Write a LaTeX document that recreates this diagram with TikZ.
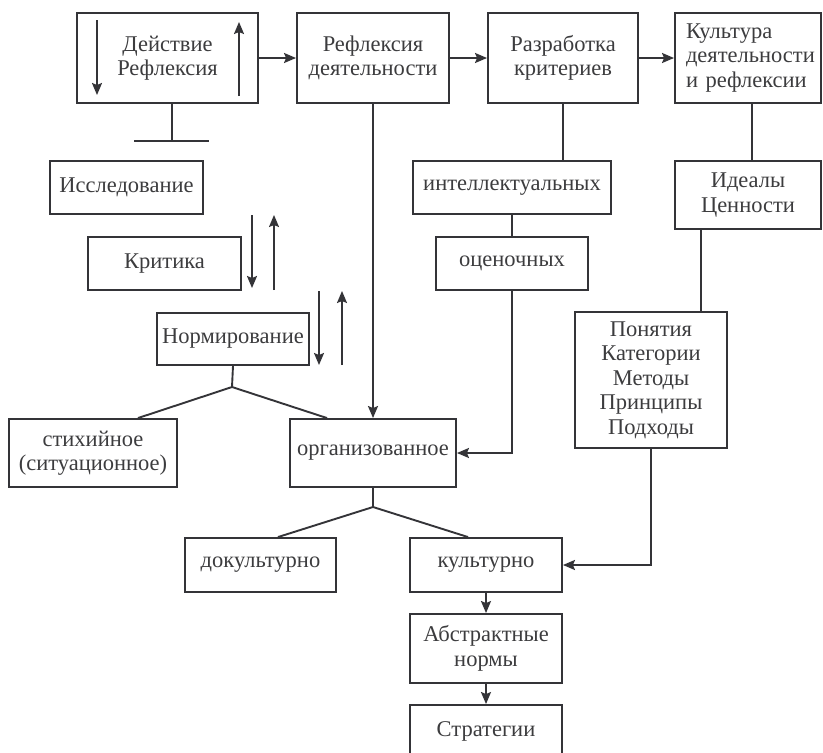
\documentclass[tikz,border=0pt]{standalone}
\usepackage{fontspec}
\setmainfont{Liberation Serif}
\usetikzlibrary{arrows.meta,calc}
\definecolor{trait}{RGB}{52,52,56}
\definecolor{texte}{RGB}{60,60,62}

\begin{document}
\begin{tikzpicture}[x=1pt,y=-1pt,
		box/.style={draw=trait,line width=1.9pt,inner sep=0pt,align=center,
			text=texte,font=\fontsize{22.5}{24.5}\selectfont},
		sz/.style 2 args={minimum width=#1,minimum height=#2},
		lien/.style={trait,line width=1.9pt},
		arr/.style={-{Stealth[length=12pt,width=10pt,inset=2pt]},trait,line width=1.9pt}]
	
	\useasboundingbox (0,0) rectangle (823,753);
	\clip (0,0) rectangle (823,753);
	
	\node[box,sz={181}{90}] (deist)  at (167.5,58) {Действие\\Рефлексия};
	\node[box,sz={152}{90}] (refl)   at (373,58)   {Рефлексия\\деятельности};
	\node[box,sz={150}{90}] (razr)   at (563,58)   {Разработка\\критериев};
	\node[box,sz={146}{90},align=left,text width=124pt,inner xsep=11pt] (kult) at (748,58)
	{Культура\\деятельности\\и рефлексии};
	
	\node[box,sz={153}{53}] (issl)   at (126.5,187.5) {Исследование};
	\node[box,sz={153}{53}] (krit)   at (164.5,263.5) {Критика};
	\node[box,sz={152}{52}] (norm)   at (233,339)     {Нормирование};
	
	\node[box,sz={198}{53}] (intel)  at (512,187.5)   {интеллектуальных};
	\node[box,sz={152}{53}] (ocen)   at (512,263.5)   {оценочных};
	\node[box,sz={146}{68}] (ideal)  at (748,195)     {Идеалы\\Ценности};
	\node[box,sz={152}{136}] (ponyat) at (651,380)
	{Понятия\\Категории\\Методы\\Принципы\\Подходы};
	
	\node[box,sz={168}{68}] (stih)   at (93,453)    {стихийное\\(ситуационное)};
	\node[box,sz={166}{68}] (organ)  at (373,453)   {организованное};
	\node[box,sz={151}{54}] (dokult) at (260.5,565) {докультурно};
	\node[box,sz={152}{54}] (kultur) at (486,565)   {культурно};
	\node[box,sz={152}{69}] (abstr)  at (486,648.5) {Абстрактные\\нормы};
	\node[box,sz={152}{53}] (strat)  at (486,731.5) {Стратегии};
	
	\draw[arr] (deist) -- (refl);
	\draw[arr] (refl) -- (razr);
	\draw[arr] (razr) -- (kult);
	
	\draw[arr] (97,20) -- (97,95);
	\draw[arr] (239,96) -- (239,22);
	
	\coordinate (bar) at (172,141);
	\draw[lien] (bar |- deist.south) -- (bar);
	\draw[lien] (134,141) -- (209,141);
	
	\draw[arr] (252,215) -- (252,288);
	\draw[arr] (274,290) -- (274,215);
	\draw[arr] (319,291) -- (319,365);
	\draw[arr] (342,365) -- (342,291);
	
	\draw[arr] (refl) -- (organ);
	\draw[lien] (razr.south) -- (razr.south |- intel.north);
	\draw[lien] (intel) -- (ocen);
	\draw[arr] (ocen.south) |- (organ.east);
	\draw[lien] ([xshift=4pt]kult.south) -- ([xshift=4pt]kult.south |- ideal.north);
	\draw[lien] ([xshift=-47pt]ideal.south) -- ([xshift=-47pt]ideal.south |- ponyat.north);
	\draw[arr] (ponyat.south) |- (kultur.east);
	
	\coordinate (nfork) at (232,387);
	\draw[lien] (norm.south) -- (nfork);
	\draw[lien] ([xshift=45pt]stih.north) -- (nfork) -- ([xshift=-46pt]organ.north);
	
	\coordinate (ofork) at (373,507);
	\draw[lien] (organ.south) -- (ofork);
	\draw[lien] ([xshift=17.5pt]dokult.north) -- (ofork) -- ([xshift=-18pt]kultur.north);
	
	\draw[arr] (kultur) -- (abstr);
	\draw[arr] (abstr) -- (strat);
\end{tikzpicture}
\end{document}
